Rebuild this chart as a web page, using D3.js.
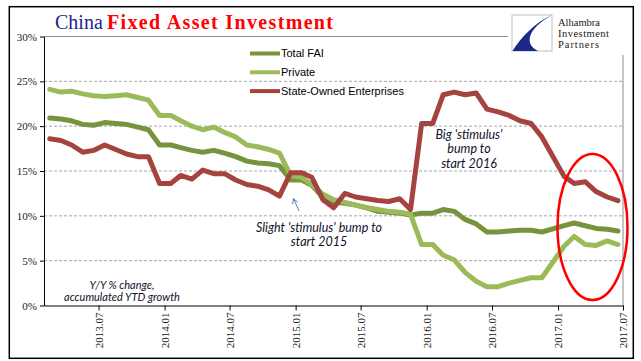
<!DOCTYPE html>
<html lang="en">
<head>
<meta charset="UTF-8">
<title>China Fixed Asset Investment</title>
<script src="https://cdn.jsdelivr.net/npm/d3@7/dist/d3.min.js"></script>
<style>
  body { margin: 0; background: #fff; }
  svg { display: block; }
</style>
</head>
<body>
<svg id="chart" width="641" height="361"></svg>
<script>
// months as published (Jan 2017 has no own value)
const months = [
  "2013.03","2013.04","2013.05","2013.06","2013.07","2013.08","2013.09","2013.10","2013.11","2013.12",
  "2014.01","2014.02","2014.03","2014.04","2014.05","2014.06","2014.07","2014.08","2014.09","2014.10","2014.11","2014.12",
  "2015.01","2015.02","2015.03","2015.04","2015.05","2015.06","2015.07","2015.08","2015.09","2015.10","2015.11","2015.12",
  "2016.01","2016.02","2016.03","2016.04","2016.05","2016.06","2016.07","2016.08","2016.09","2016.10","2016.11","2016.12",
  "2017.01","2017.02","2017.03","2017.04","2017.05","2017.06","2017.07"
];

const totalFAI = [
  20.9, 20.8, 20.6, 20.2, 20.1, 20.4, 20.3, 20.2, 19.9, 19.6,
  17.9, 17.9, 17.6, 17.3, 17.1, 17.3, 17.0, 16.6, 16.1, 15.9, 15.8, 15.6,
  14.0, 14.0, 13.4, 12.1, 11.5, 11.4, 11.2, 10.9, 10.5, 10.4, 10.3, 10.1,
  10.3, 10.3, 10.7, 10.5, 9.6, 9.1, 8.2, 8.2, 8.3, 8.4, 8.4, 8.2,
  null, 8.9, 9.2, 8.9, 8.6, 8.5, 8.3
];

const privateFAI = [
  24.1, 23.8, 23.9, 23.6, 23.4, 23.3, 23.4, 23.5, 23.2, 22.9,
  21.2, 21.2, 20.6, 20.0, 19.6, 19.9, 19.3, 18.8, 17.9, 17.7, 17.4, 17.0,
  14.5, 14.3, 13.5, 12.4, 11.8, 11.5, 11.2, 10.9, 10.7, 10.5, 10.4, 10.2,
  6.8, 6.8, 5.6, 5.1, 3.7, 2.7, 2.1, 2.1, 2.5, 2.8, 3.1, 3.1,
  null, 6.6, 7.7, 6.8, 6.7, 7.2, 6.8
];

const soeFAI = [
  18.6, 18.4, 17.9, 17.1, 17.3, 17.9, 17.4, 16.9, 16.6, 16.6,
  13.6, 13.6, 14.5, 14.1, 15.1, 14.7, 14.7, 14.0, 13.5, 13.3, 12.9, 12.2,
  14.8, 14.8, 14.3, 11.8, 10.9, 12.5, 12.1, 11.9, 11.7, 11.6, 11.9, 10.7,
  20.3, 20.3, 23.5, 23.8, 23.5, 23.7, 21.9, 21.6, 21.2, 20.6, 20.3, 18.8,
  null, 14.4, 13.6, 13.8, 12.7, 12.1, 11.7
];

const seriesNames = ["Total FAI", "Private", "State-Owned Enterprises"];
const seriesColors = ["#77933c", "#9bbb59", "#a5433f"];
const yTicks = [0, 5, 10, 15, 20, 25, 30];
const xTickLabels = ["2013.07","2014.01","2014.07","2015.01","2015.07","2016.01","2016.07","2017.01","2017.07"];

const svg = d3.select("#chart");
const plot = { left: 44, right: 623, top: 36.5, bottom: 305.5 };

const parseMonth = s => new Date(+s.slice(0, 4), +s.slice(5, 7) - 1, 1);
// axis labels sit mid-month in the original chart
const tickDates = xTickLabels.map(s => new Date(+s.slice(0, 4), +s.slice(5, 7) - 1, 15));

const x = d3.scaleTime()
  .domain([new Date(2013, 1, 13), new Date(2017, 6, 15)])
  .range([plot.left, plot.right]);
const y = d3.scaleLinear().domain([0, 30]).range([plot.bottom, plot.top]);

// gridlines
svg.append("g")
  .selectAll("line")
  .data(yTicks.filter(d => d > 0 && d < 30))
  .enter().append("line")
  .attr("x1", plot.left).attr("x2", plot.right)
  .attr("y1", d => y(d)).attr("y2", d => y(d))
  .attr("stroke", "#a6a6a6")
  .attr("stroke-width", 1)
  .attr("stroke-dasharray", "3,2");

// plot area top / right border
svg.append("path")
  .attr("d", `M${plot.left},${y(30)}H${plot.right}V${plot.bottom}`)
  .attr("fill", "none")
  .attr("stroke", "#8c8c8c")
  .attr("stroke-width", 1);

// series
const allSeries = [totalFAI, privateFAI, soeFAI];
const line = d3.line()
  .x(d => x(d.date))
  .y(d => y(d.v));

svg.append("g")
  .selectAll("path")
  .data(allSeries)
  .enter().append("path")
  .attr("d", s => line(months.map((m, i) => ({ date: parseMonth(m), v: s[i] })).filter(d => d.v != null)))
  .attr("fill", "none")
  .attr("stroke", (d, i) => seriesColors[i])
  .attr("stroke-width", 5)
  .attr("stroke-linejoin", "round")
  .attr("stroke-linecap", "round");

// y axis
const yAxis = svg.append("g")
  .attr("transform", `translate(${plot.left},0)`)
  .call(d3.axisLeft(y).tickValues(yTicks).tickFormat(d => d + "%").tickSize(4).tickSizeOuter(0));
yAxis.select(".domain").attr("stroke", "#000");
yAxis.selectAll(".tick line").attr("stroke", "#000");
yAxis.selectAll("text")
  .attr("x", -7)
  .attr("fill", "#222")
  .style("font-family", "'Liberation Serif', 'Times New Roman', serif")
  .style("font-size", "11px");

// x axis
const xAxis = svg.append("g")
  .attr("transform", `translate(0,${plot.bottom})`)
  .call(d3.axisBottom(x).tickValues(tickDates).tickFormat(d3.timeFormat("%Y.%m")).tickSize(5).tickSizeOuter(0));
xAxis.select(".domain").attr("stroke", "#000");
xAxis.selectAll(".tick line").attr("stroke", "#000");
xAxis.selectAll("text")
  .attr("transform", "rotate(-90)")
  .attr("x", -7)
  .attr("y", 0)
  .attr("dy", "0.35em")
  .style("text-anchor", "end")
  .attr("fill", "#222")
  .style("font-family", "'Liberation Serif', 'Times New Roman', serif")
  .style("font-size", "11px");

// legend
const legend = svg.append("g")
  .selectAll("g")
  .data(seriesNames)
  .enter().append("g")
  .attr("transform", (d, i) => `translate(250,${53.5 + i * 18.8})`);
legend.append("line")
  .attr("x1", 0).attr("x2", 30)
  .attr("stroke", (d, i) => seriesColors[i])
  .attr("stroke-width", 4);
legend.append("text")
  .attr("x", 31)
  .attr("dy", "0.35em")
  .text(d => d)
  .style("font-family", "'Liberation Sans', Arial, sans-serif")
  .style("font-size", "11px")
  .attr("fill", "#000");

// annotations
const noteFont = "Lato, 'Open Sans', sans-serif";
const notes = [
  { lines: ["Big 'stimulus'", "bump to", "start 2016"], x: 469, y: 138.5, lh: 14.5, size: 12.5 },
  { lines: ["Slight 'stimulus' bump to", "start 2015"], x: 319, y: 231.5, lh: 14.5, size: 12.5 },
  { lines: ["Y/Y % change,", "accumulated YTD growth"], x: 122, y: 288.5, lh: 12.3, size: 11 }
];
notes.forEach(n => {
  const t = svg.append("text")
    .attr("text-anchor", "middle")
    .style("font-family", noteFont)
    .style("font-style", "italic")
    .style("font-size", n.size + "px")
    .attr("fill", "#10102a");
  n.lines.forEach((l, i) => {
    t.append("tspan").attr("x", n.x).attr("y", n.y + i * n.lh).text(l);
  });
});

// small blue arrow pointing at the 2015 bump
svg.append("path")
  .attr("d", "M299,211L293.5,198.5M293.5,198.5L292.6,204.2M293.5,198.5L297.6,202.3")
  .attr("fill", "none")
  .attr("stroke", "#4f81bd")
  .attr("stroke-width", 1);

// red ellipse around 2017
svg.append("ellipse")
  .attr("cx", 592.5).attr("cy", 227)
  .attr("rx", 35).attr("ry", 73)
  .attr("fill", "none")
  .attr("stroke", "#ff0000")
  .attr("stroke-width", 2.5);

// logo
const logo = svg.append("g");
logo.append("rect")
  .attr("x", 508).attr("y", 10).attr("width", 122).attr("height", 45)
  .attr("fill", "#fff");
logo.append("rect")
  .attr("x", 512).attr("y", 15).attr("width", 40).attr("height", 36)
  .attr("fill", "#fff").attr("stroke", "#b0b0b0").attr("stroke-width", 0.8);
logo.append("path")
  .attr("d", "M552,15 C536,22 521,37 512.5,51 L538,51 C524,44 527,29 552,15 Z")
  .attr("fill", "#1b2a8a");
["Alhambra", "Investment", "Partners"].forEach((l, i) => {
  logo.append("text")
    .attr("x", 558).attr("y", 26 + i * 11.2)
    .attr("textLength", [42, 51, 41][i])
    .attr("lengthAdjust", "spacing")
    .style("font-family", "'Liberation Serif', 'Times New Roman', serif")
    .style("font-size", "10.5px")
    .attr("fill", "#1a1a1a")
    .text(l);
});

// title
svg.append("text")
  .attr("x", 55).attr("y", 29)
  .style("font-family", "'Liberation Serif', 'Times New Roman', serif")
  .style("font-size", "20px")
  .attr("fill", "#1f1f8c")
  .text("China");
svg.append("text")
  .attr("x", 107).attr("y", 29)
  .attr("textLength", 226)
  .attr("lengthAdjust", "spacing")
  .style("font-family", "'Liberation Serif', 'Times New Roman', serif")
  .style("font-size", "20px")
  .style("font-weight", "bold")
  .attr("fill", "#ff0000")
  .text("Fixed Asset Investment");

// outer frame
svg.append("rect")
  .attr("x", 9.3).attr("y", 6.7)
  .attr("width", 624).attr("height", 351.6)
  .attr("fill", "none")
  .attr("stroke", "#000")
  .attr("stroke-width", 1.5);
</script>
</body>
</html>
